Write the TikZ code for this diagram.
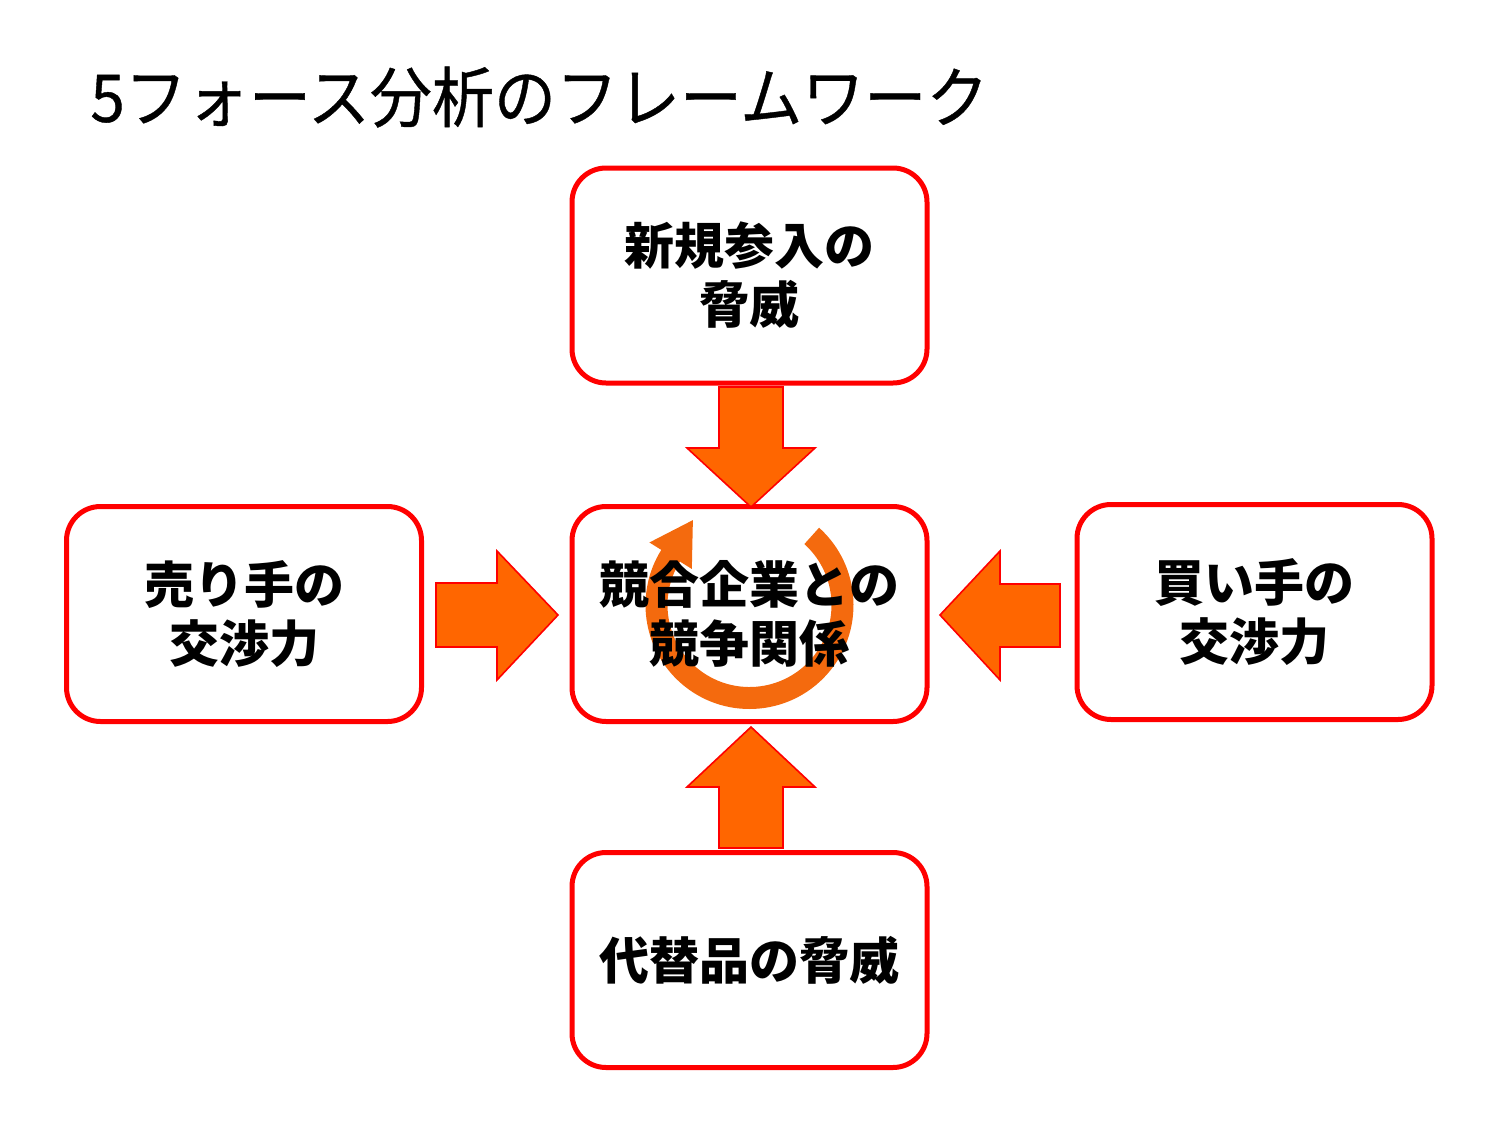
\documentclass[tikz,border=0pt]{standalone}
\usepackage{fontspec}
\newfontfamily\jp{Noto Sans CJK JP}
\newfontfamily\jptitle{Noto Sans CJK JP}[FakeStretch=0.94,FakeBold=0.6]
\usetikzlibrary{calc,backgrounds}
\definecolor{boxred}{HTML}{FF0000}
\definecolor{arrorange}{HTML}{FF6600}
\definecolor{ringorange}{HTML}{F46A0E}
\begin{document}
\begin{tikzpicture}[x=0.5pt,y=-0.5pt,
  box/.style={draw=boxred, line width=2.5pt, rounded corners=17pt,
    minimum width=177.5pt, minimum height=107.5pt, align=center, inner sep=0pt,
    font=\jp\bfseries\fontsize{25}{29.5}\selectfont},
  blockarrow/.style={fill=arrorange, draw=boxred, line width=0.8pt, line join=miter}]
\useasboundingbox (0,0) rectangle (1500,1125);

\node[anchor=west, font=\jptitle\fontsize{33}{40}\selectfont, inner sep=0pt] (title) at (90,97) {5フォース分析のフレームワーク};

\node[box] (top) at (749.5,275.5) {新規参入の\\脅威};
\node[box] (center) at (749.5,614) {競合企業との\\競争関係};
\node[box] (left) at (244,614) {売り手の\\交渉力};
\node[box] (right) at (1254.5,612) {買い手の\\交渉力};
\node[box] (bottom) at (749.5,960) {代替品の脅威};

\begin{scope}[on background layer]
\begin{scope}[shift={($(center.center)+(0,-9)$)}, yscale=-1]
\fill[ringorange] (48:104) arc[start angle=48, end angle=-212, radius=104]
  -- (148:118) -- ($(148:93)+(58:42)$) -- (148:68) -- (148:82)
  arc[start angle=-212, end angle=48, radius=82] -- cycle;
\end{scope}
\end{scope}

\draw[blockarrow] (719,387) -- (783,387) -- (783,448) -- (815,448) -- (751,507) -- (687,448) -- (719,448) -- cycle;
\draw[blockarrow] (436,583) -- (497,583) -- (497,551) -- (558,615) -- (497,680) -- (497,647) -- (436,647) -- cycle;
\draw[blockarrow] (1060,584) -- (1000,584) -- (1000,551) -- (940,615) -- (1000,680) -- (1000,647) -- (1060,647) -- cycle;
\draw[blockarrow] (719,848) -- (783,848) -- (783,787) -- (815,787) -- (751,727) -- (687,787) -- (719,787) -- cycle;
\end{tikzpicture}
\end{document}
